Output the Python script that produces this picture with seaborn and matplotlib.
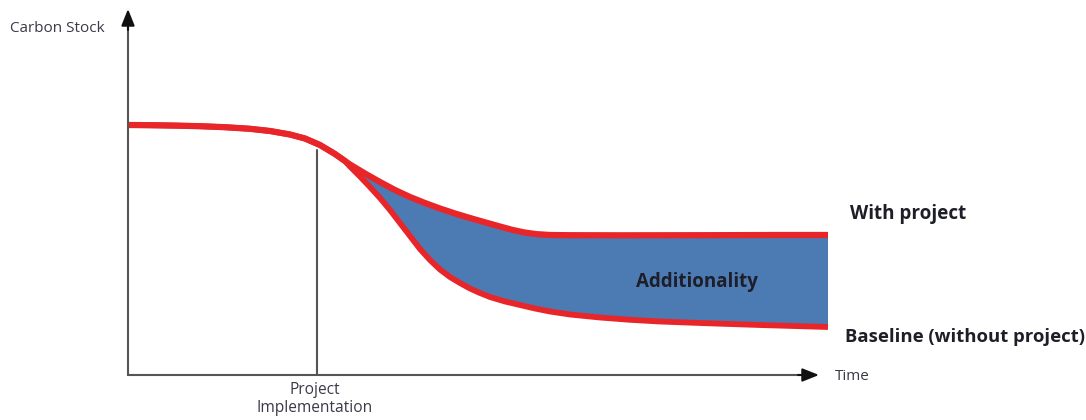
import numpy as np
import matplotlib
matplotlib.use("Agg")
import matplotlib.pyplot as plt
import seaborn as sns
import pandas as pd

# -------------------------
# Data (time vs carbon stock, screen-like units)
# -------------------------
time_with = [128, 150, 175, 200, 225, 250, 270, 290, 305, 320, 335, 350, 365,
             380, 395, 410, 425, 440, 455, 470, 485, 500, 512, 524, 536, 550,
             570, 620, 700, 780, 828]
stock_with = [125, 125.2, 125.6, 126.2, 127.2, 128.8, 131, 134.5, 138.5, 145,
              154, 164.5, 173.5, 182, 190, 197, 203, 208.5, 213.5, 218, 222.3,
              226.5, 229.8, 232.4, 234.1, 235, 235.2, 235.3, 235.2, 235, 235]

time_base = [128, 150, 175, 200, 225, 250, 270, 290, 305, 320, 335, 345, 350,
             360, 370, 380, 390, 400, 410, 420, 430, 440, 450, 460, 470, 480,
             490, 505, 520, 535, 550, 570, 600, 630, 660, 700, 760, 828]
stock_base = [125, 125.2, 125.6, 126.2, 127.2, 128.8, 131, 134.5, 138.5, 145,
              154, 161, 166.5, 176.5, 187, 198, 210, 223, 236, 249, 260, 269.5,
              277, 283, 288.5, 293, 297, 301.5, 305, 308.5, 311.5, 314.5, 317.5,
              319.8, 321.5, 323, 325, 327]

implementation_time = 317

df_with = pd.DataFrame({"time": time_with, "stock": stock_with})
df_base = pd.DataFrame({"time": time_base, "stock": stock_base})

RED = "#E8262A"
BLUE = "#4C7AB3"
TXT = "#1E1E28"
GREY_TXT = "#3a3a48"

sns.set_style("white")
plt.rcParams["font.family"] = ["Open Sans", "DejaVu Sans"]

fig = plt.figure(figsize=(10.86, 4.2), dpi=100)
ax = fig.add_axes([0, 0, 1, 1])

# -------------------------
# Additionality area (between the two curves, from where they split)
# -------------------------
split = 10
poly_x = time_with[split:] + time_base[split:][::-1]
poly_y = stock_with[split:] + stock_base[split:][::-1]
ax.fill(poly_x, poly_y, color=BLUE, zorder=2, lw=0)

# curves
sns.lineplot(data=df_base, x="time", y="stock", ax=ax, color=RED, lw=4.2,
             sort=False, zorder=3, solid_joinstyle="round", solid_capstyle="butt")
sns.lineplot(data=df_with, x="time", y="stock", ax=ax, color=RED, lw=4.5,
             sort=False, zorder=3, solid_joinstyle="round", solid_capstyle="butt")
ax.set_xlim(0, 1086)
ax.set_ylim(420, 0)
ax.axis("off")

# -------------------------
# Axes with arrows (grey shaft, black head)
# -------------------------
x0, y0 = time_with[0], 375
ax.plot([x0, x0], [y0 + 1, 20], color="#555555", lw=1.5, zorder=4,
        solid_capstyle="butt")
ax.plot([x0 - 1, 805], [y0, y0], color="#555555", lw=1.5, zorder=4,
        solid_capstyle="butt")
head = dict(arrowstyle="-|>,head_length=1.0,head_width=0.4", color="#111111",
            lw=1.5, shrinkA=0, shrinkB=0)
ax.annotate("", xy=(x0, 9), xytext=(x0, 30), arrowprops=head, zorder=5)
ax.annotate("", xy=(819, y0), xytext=(798, y0), arrowprops=head, zorder=5)

# project implementation marker
ax.plot([implementation_time, implementation_time], [150, y0], color="#555555",
        lw=1.5, zorder=1)

# -------------------------
# Labels
# -------------------------
ax.text(10, 28, "Carbon Stock", fontsize=11, color=GREY_TXT, va="center", ha="left")
ax.text(835, 376, "Time", fontsize=11, color=GREY_TXT, va="center", ha="left")
ax.text(implementation_time - 2, 399, "Project\nImplementation", fontsize=11.2,
        color=GREY_TXT, ha="center", va="center", linespacing=1.2)
ax.text(850, 214, "With project", fontsize=13.6, fontweight="bold", color=TXT,
        va="center", ha="left")
ax.text(845, 337, "Baseline (without project)", fontsize=13.3, fontweight="bold",
        color=TXT, va="center", ha="left")
ax.text(697, 282, "Additionality", fontsize=13.5, fontweight="bold", color=TXT,
        va="center", ha="center", zorder=5)

fig.savefig("out.png", dpi=100)
